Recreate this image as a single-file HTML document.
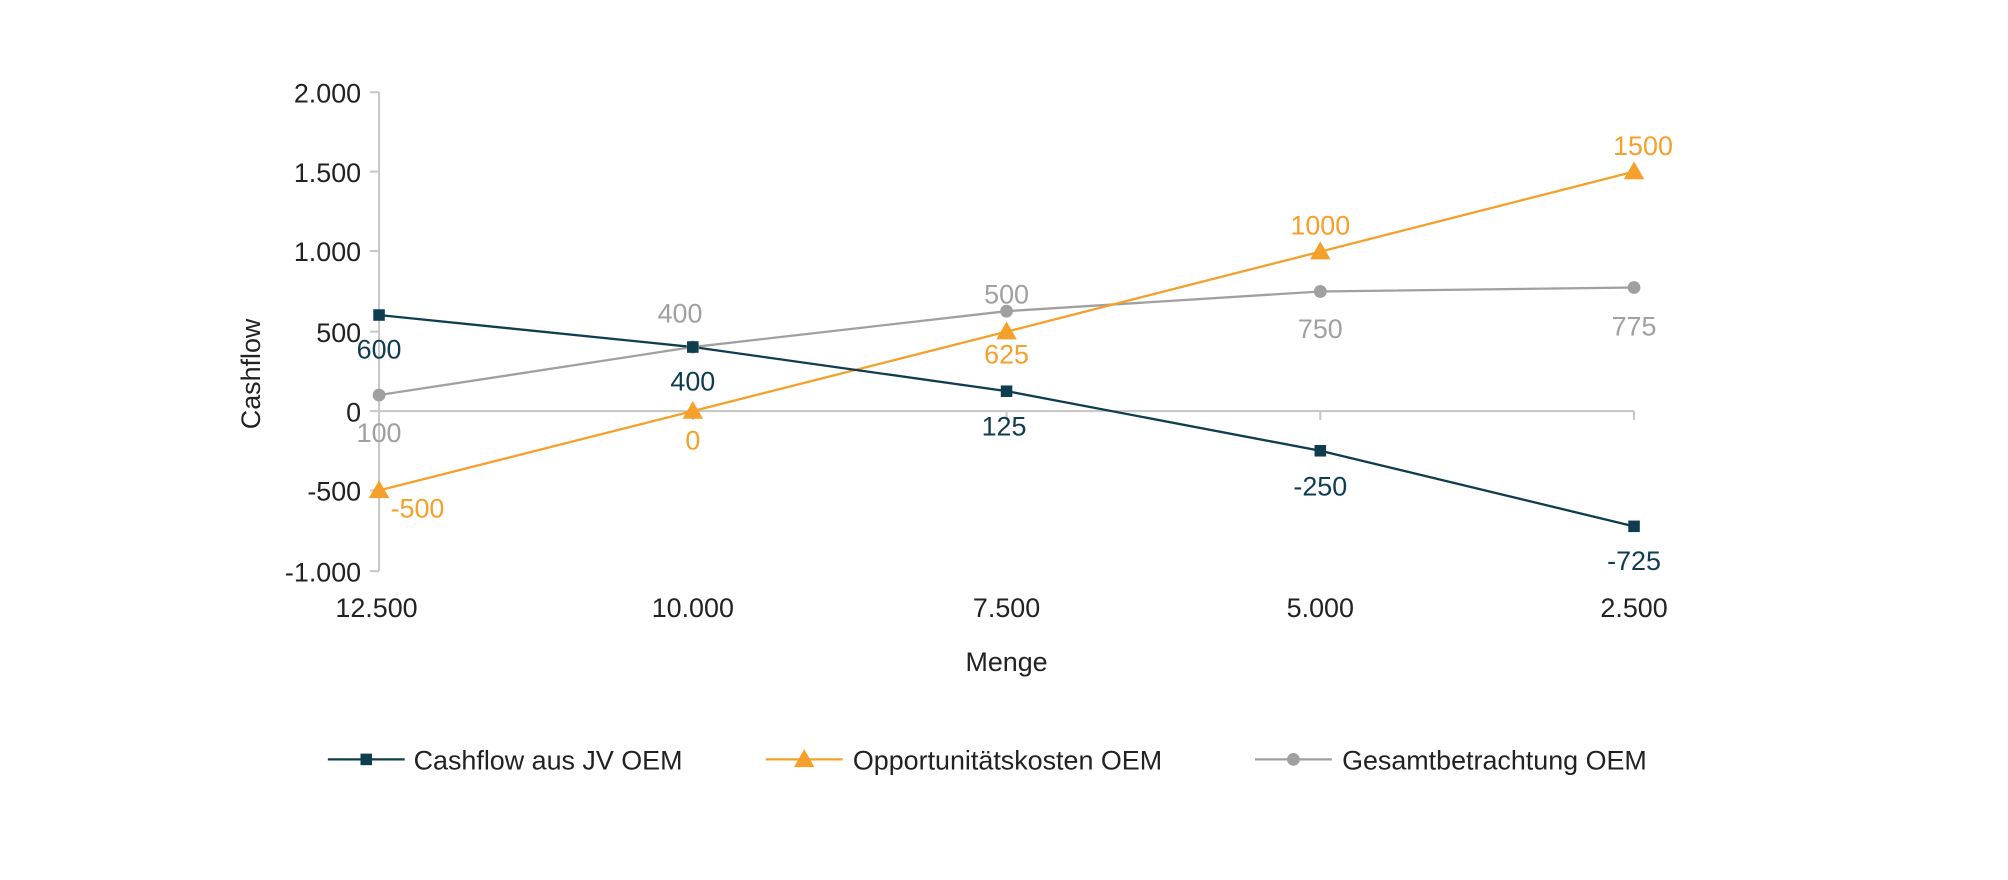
<!DOCTYPE html>
<html><head><meta charset="utf-8"><style>
html,body{margin:0;padding:0;background:#fff}
svg text{font-family:"Liberation Sans",sans-serif}
</style></head><body>
<svg width="2008" height="875" xmlns="http://www.w3.org/2000/svg">
<g transform="scale(1.2806)">
<g stroke="#c8c8c8" stroke-width="1.6" fill="none">
<line x1="296" y1="72" x2="296" y2="446"/>
<line x1="296" y1="321" x2="1276" y2="321"/>
<line x1="289" y1="72" x2="296" y2="72"/>
<line x1="289" y1="134" x2="296" y2="134"/>
<line x1="289" y1="196" x2="296" y2="196"/>
<line x1="289" y1="259" x2="296" y2="259"/>
<line x1="289" y1="321" x2="296" y2="321"/>
<line x1="289" y1="383" x2="296" y2="383"/>
<line x1="289" y1="446" x2="296" y2="446"/>
<line x1="541" y1="321" x2="541" y2="328"/>
<line x1="786" y1="321" x2="786" y2="328"/>
<line x1="1031" y1="321" x2="1031" y2="328"/>
<line x1="1276" y1="321" x2="1276" y2="328"/>
</g>
<g font-size="21" fill="#222" text-anchor="end">
<text x="282" y="80">2.000</text>
<text x="282" y="142">1.500</text>
<text x="282" y="204">1.000</text>
<text x="282" y="267">500</text>
<text x="282" y="329">0</text>
<text x="282" y="391">-500</text>
<text x="282" y="454">-1.000</text>
</g>
<g font-size="21" fill="#222" text-anchor="middle">
<text x="294" y="482">12.500</text>
<text x="541" y="482">10.000</text>
<text x="786" y="482">7.500</text>
<text x="1031" y="482">5.000</text>
<text x="1276" y="482">2.500</text>
<text x="786" y="524">Menge</text>
<text transform="translate(203,292) rotate(-90)">Cashflow</text>
</g>
<polyline points="296,308.5 541,271 786,243 1031,227.6 1276,224.5" fill="none" stroke="#a0a0a0" stroke-width="1.8"/>
<polyline points="296,383 541,321 786,259 1031,196.5 1276,134" fill="none" stroke="#f5a02a" stroke-width="1.8"/>
<polyline points="296,246 541,271 786,305.4 1031,352 1276,411" fill="none" stroke="#0e3d4f" stroke-width="1.8"/>
<g fill="#a0a0a0">
<circle cx="296" cy="308.5" r="5"/><circle cx="541" cy="271" r="5"/><circle cx="786" cy="243" r="5"/><circle cx="1031" cy="227.6" r="5"/><circle cx="1276" cy="224.5" r="5"/>
</g>
<g fill="#f5a02a">
<polygon points="296,375 288,389 304,389"/><polygon points="541,313 533,327 549,327"/><polygon points="786,251 778,265 794,265"/><polygon points="1031,188.5 1023,202.5 1039,202.5"/><polygon points="1276,126 1268,140 1284,140"/>
</g>
<g fill="#0e3d4f">
<rect x="291.5" y="241.5" width="9" height="9"/><rect x="536.5" y="266.5" width="9" height="9"/><rect x="781.5" y="301" width="9" height="9"/><rect x="1026.5" y="347.5" width="9" height="9"/><rect x="1271.5" y="406.5" width="9" height="9"/>
</g>
<g font-size="21" text-anchor="middle">
<g fill="#a0a0a0">
<text x="296" y="345">100</text><text x="531" y="252">400</text><text x="786" y="237">500</text><text x="1031" y="264">750</text><text x="1276" y="262">775</text>
</g>
<g fill="#f5a02a">
<text x="326" y="404">-500</text><text x="541" y="351">0</text><text x="786" y="284">625</text><text x="1031" y="183">1000</text><text x="1283" y="121">1500</text>
</g>
<g fill="#0e3d4f">
<text x="296" y="280">600</text><text x="541" y="305">400</text><text x="784" y="340">125</text><text x="1031" y="387">-250</text><text x="1276" y="445">-725</text>
</g>
</g>
<g stroke-width="1.8">
<line x1="256" y1="593" x2="316" y2="593" stroke="#0e3d4f"/>
<rect x="281.5" y="588.5" width="9" height="9" fill="#0e3d4f"/>
<line x1="598" y1="593" x2="658" y2="593" stroke="#f5a02a"/>
<polygon points="628,585 620,599 636,599" fill="#f5a02a"/>
<line x1="980" y1="593" x2="1040" y2="593" stroke="#a0a0a0"/>
<circle cx="1010" cy="593" r="5" fill="#a0a0a0"/>
</g>
<g font-size="21" fill="#222">
<text x="323" y="601">Cashflow aus JV OEM</text>
<text x="666" y="601">Opportunitätskosten OEM</text>
<text x="1048" y="601">Gesamtbetrachtung OEM</text>
</g>
</g>
</svg>
</body></html>
